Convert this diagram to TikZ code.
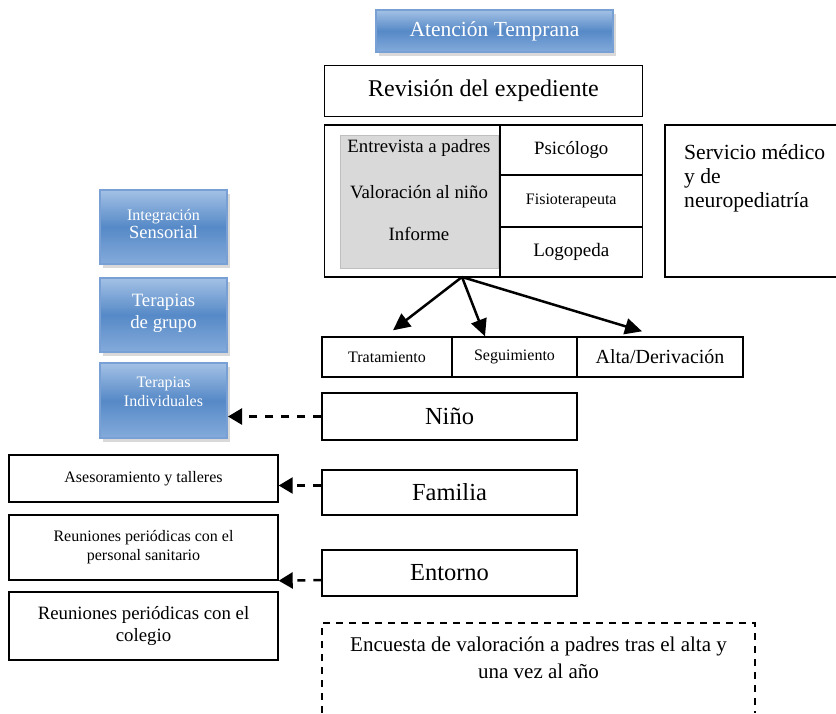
\documentclass[tikz,border=0pt]{standalone}
\usepackage{fontspec}
\setmainfont{Liberation Serif}
\usetikzlibrary{arrows.meta,shadows,positioning}

\definecolor{bluetop}{RGB}{163,193,229}
\definecolor{bluemid}{RGB}{86,137,199}
\definecolor{bluebot}{RGB}{132,171,219}
\definecolor{blueline}{RGB}{120,160,212}
\definecolor{grayfill}{RGB}{217,217,217}

\newcommand{\fsz}[2]{\fontsize{#1}{#2}\selectfont}

\begin{document}
\begin{tikzpicture}[x=1pt,y=-1pt,
    box/.style={draw, line width=1.4pt, inner sep=2pt, align=center},
    bluebox/.style={draw=blueline, line width=2pt, top color=bluetop, bottom color=bluebot,
        middle color=bluemid, text=white, align=center,
        drop shadow={shadow xshift=3pt, shadow yshift=-4pt, opacity=0.3}},
    solidarrow/.style={line width=2.5pt, -{Triangle[length=17pt,width=16pt]}},
    dasharrow/.style={line width=2.5pt, dash pattern=on 8pt off 8pt, -{Triangle[length=14pt,width=16pt]}}]

    % Page frame
    \useasboundingbox (0,0) rectangle (836,713);
    \clip (0,0) rectangle (836,713);

    % Title and first step
    \node[bluebox, minimum width=237pt, minimum height=42pt, font=\fsz{21.5}{25}] (atencion) at (494.5,31) {Atención Temprana};
    \node[box, minimum width=318pt, minimum height=51pt, font=\fsz{24}{28}] (revision) at (483.5,91) {Revisión del expediente};

    % Evaluation block
    \node[box, minimum width=318pt, minimum height=152pt] (valoracion) at (483.5,201) {};
    \node[fill=grayfill, draw=gray!50, line width=0.4pt, minimum width=158pt, minimum height=133pt] (tareas) at (419,201.5) {};
    \node[font=\fsz{18.8}{22}] (entrevista) at (419,148) {Entrevista a padres};
    \node[font=\fsz{18.8}{22}] (valnino) at (419,192) {Valoración al niño};
    \node[font=\fsz{18.8}{22}] (informe) at (419,234) {Informe};

    % Professionals
    \node[box, minimum width=142.5pt, minimum height=50pt, font=\fsz{18.8}{22}] (psicologo) at (571.25,150) {Psicólogo};
    \node[box, minimum width=142.5pt, minimum height=52pt, font=\fsz{16}{19}] (fisio) at (571.25,201) {Fisioterapeuta};
    \node[box, minimum width=142.5pt, minimum height=50pt, font=\fsz{19}{22}] (logopeda) at (571.25,252) {Logopeda};

    % Medical service (runs off the page)
    \node[box, minimum width=240pt, minimum height=152pt] (servicio) at (785,201) {};
    \node[font=\fsz{21.6}{24}, align=left, anchor=north west, inner sep=0pt] (servtxt) at (684,144) {Servicio médico\\y de\\neuropediatría};

    % Outcomes
    \coordinate (split) at (462,277);
    \node[box, minimum width=130pt, minimum height=40pt, font=\fsz{16}{19}] (tratamiento) at (387,357) {Tratamiento};
    \node[box, minimum width=125pt, minimum height=40pt, font=\fsz{16}{19}] (seguimiento) at (514.5,357) {Seguimiento};
    \node[box, minimum width=166pt, minimum height=40pt, font=\fsz{20}{23}] (alta) at (660,357) {Alta/Derivación};

    \draw[solidarrow] (split) -- ([xshift=6pt,yshift=6pt]tratamiento.north);
    \draw[solidarrow] (split) -- ([xshift=-29.5pt]seguimiento.north);
    \draw[solidarrow] (split) -- ([xshift=-18pt,yshift=5pt]alta.north);

    % Intervention areas
    \node[box, minimum width=255pt, minimum height=47pt, font=\fsz{24.5}{28}] (nino) at (449.5,416.5) {Niño};
    \node[box, minimum width=255pt, minimum height=45pt, font=\fsz{24.5}{28}] (familia) at (449.5,492.5) {Familia};
    \node[box, minimum width=255pt, minimum height=46pt, font=\fsz{24.5}{28}] (entorno) at (449.5,573) {Entorno};

    % Survey
    \node[font=\fsz{21}{27}, align=center] (encuesta) at (538.5,658) {Encuesta de valoración a padres tras el alta y\\una vez al año};
    \draw[line width=1.5pt, dash pattern=on 7pt off 6pt] (322,713) -- (322,623) -- (755,623) -- (755,713);

    % Therapies
    \node[bluebox, minimum width=127pt, minimum height=74pt, text depth=6pt] (sensorial) at (163.5,227) {{\fsz{16}{18}Integración}\\{\fsz{18.5}{20}Sensorial}};
    \node[bluebox, minimum width=127pt, minimum height=74pt, font=\fsz{18.8}{22}, text depth=8pt] (grupo) at (163.5,315) {Terapias\\de grupo};
    \node[bluebox, minimum width=127pt, minimum height=75pt, font=\fsz{16}{19}, text depth=18pt] (individual) at (163.5,400.5) {Terapias\\Individuales};

    % Family and environment actions
    \node[box, minimum width=269pt, minimum height=47pt, font=\fsz{16}{19}] (asesoramiento) at (143.5,478.5) {Asesoramiento y talleres};
    \node[box, minimum width=269pt, minimum height=65pt, font=\fsz{16}{19}] (sanitario) at (143.5,547.5) {Reuniones periódicas con el\\personal sanitario};
    \node[box, minimum width=269pt, minimum height=68pt, font=\fsz{18.8}{22}] (colegio) at (143.5,626) {Reuniones periódicas con el\\colegio};

    % Dashed links
    \draw[dasharrow] (nino.west) -- (nino.west -| individual.east);
    \draw[dasharrow] ([yshift=7pt]familia.west) -- ([yshift=7pt]familia.west -| asesoramiento.east);
    \draw[dasharrow] ([yshift=-7pt]entorno.west) -- (sanitario.south east);
\end{tikzpicture}
\end{document}
